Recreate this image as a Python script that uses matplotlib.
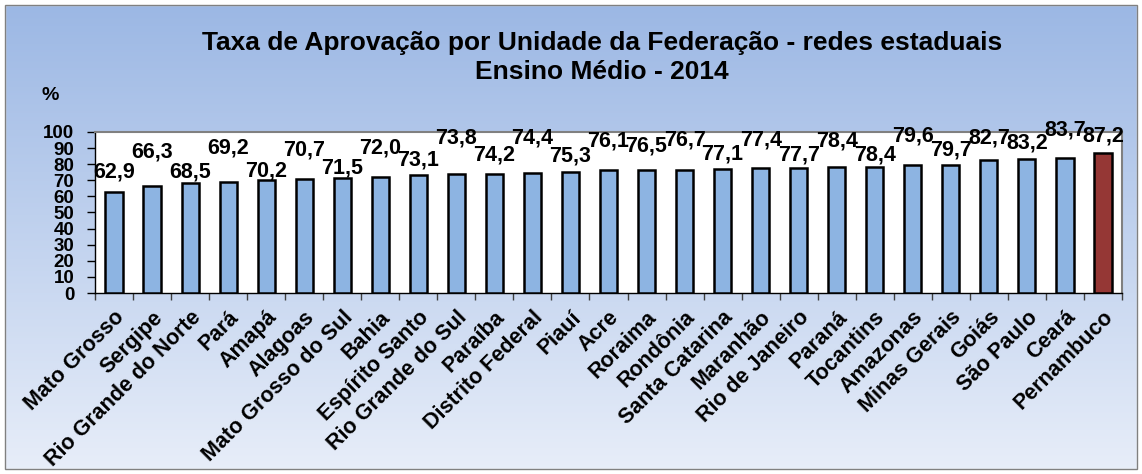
import numpy as np
import matplotlib
matplotlib.use("Agg")
from matplotlib import pyplot as plt
from matplotlib.patches import Rectangle
from matplotlib.transforms import ScaledTranslation

# data
estados = ["Mato Grosso", "Sergipe", "Rio Grande do Norte", "Pará", "Amapá", "Alagoas",
           "Mato Grosso do Sul", "Bahia", "Espírito Santo", "Rio Grande do Sul", "Paraíba",
           "Distrito Federal", "Piauí", "Acre", "Roraima", "Rondônia", "Santa Catarina",
           "Maranhão", "Rio de Janeiro", "Paraná", "Tocantins", "Amazonas", "Minas Gerais",
           "Goiás", "São Paulo", "Ceará", "Pernambuco"]
taxa = [62.9, 66.3, 68.5, 69.2, 70.2, 70.7, 71.5, 72.0, 73.1, 73.8, 74.2, 74.4, 75.3,
        76.1, 76.5, 76.7, 77.1, 77.4, 77.7, 78.4, 78.4, 79.6, 79.7, 82.7, 83.2, 83.7, 87.2]
destaque = "Pernambuco"

# where each value label sits (manually staggered like the original)
label_y = [75.2, 87.6, 75.2, 90.0, 75.8, 88.8, 77.6, 90.0, 82.6, 96.3, 85.7, 96.3, 85.0,
           94.4, 91.3, 95.0, 86.3, 95.0, 85.7, 94.4, 85.7, 97.5, 88.8, 96.3, 93.2, 101.2, 97.5]

plt.rcParams['font.family'] = ['Liberation Sans', 'DejaVu Sans']
plt.rcParams['font.weight'] = 'bold'

fig = plt.figure(figsize=(11.42, 4.74), dpi=100)

# gradient background
bg = fig.add_axes([0, 0, 1, 1], zorder=-10)
top = np.array([155, 183, 228]) / 255
bot = np.array([232, 238, 249]) / 255
t = np.linspace(0, 1, 256)[:, None]
grad = top[None, :] * (1 - t) + bot[None, :] * t
bg.imshow(grad[:, None, :], aspect='auto', extent=[0, 1, 0, 1])
bg.set_xlim(0, 1)
bg.set_ylim(0, 1)
bg.axis('off')
# white margin outside the chart frame + thin frame
W, H = 1142, 474
frame = Rectangle((5 / W, 5 / H), (1137 - 5) / W, (469 - 5) / H, transform=fig.transFigure,
                  fill=False, edgecolor='#808080', lw=1.0, zorder=5)
fig.patches.append(frame)
for r in [(0, 0, 5 / W, 1), (1137 / W, 0, 1, 1), (0, 0, 1, 5 / H), (0, 469 / H, 1, 1)]:
    fig.patches.append(Rectangle((r[0], r[1]), r[2] - r[0], r[3] - r[1],
                                 transform=fig.transFigure, color='white', zorder=4))

ax = fig.add_axes([95 / W, 1 - 293 / H, (1122 - 95) / W, (293 - 132) / H])
ax.set_facecolor('white')

x = np.arange(len(estados))
cores = ['#953735' if e == destaque else '#8DB4E2' for e in estados]
ax.bar(x, taxa, width=0.45, color=cores, edgecolor='black', linewidth=1.8, zorder=3)

for xi, v, ly in zip(x, taxa, label_y):
    ax.text(xi, ly, f"{v:.1f}".replace(".", ","), ha='center', va='center',
            fontsize=15.5, fontweight='bold', zorder=4, clip_on=False)

ax.set_xlim(-0.5, len(estados) - 0.5)
ax.set_ylim(0, 100)
ax.set_yticks(np.arange(0, 101, 10))
ax.set_yticklabels([str(v) for v in range(0, 101, 10)], fontsize=13.5, fontweight='bold')
ax.tick_params(axis='y', direction='out', length=6, width=1, pad=9)

ax.set_xticks(x)
ax.set_xticklabels(estados, rotation=45, ha='right', rotation_mode='anchor',
                   fontsize=15.5, fontweight='bold')
shift = ScaledTranslation(4 / 100, 0, fig.dpi_scale_trans)
for lbl in ax.get_xticklabels():
    lbl.set_transform(lbl.get_transform() + shift)
ax.set_xticks(np.arange(-0.5, len(estados), 1), minor=True)
ax.tick_params(axis='x', which='major', length=0, pad=10)
ax.tick_params(axis='x', which='minor', direction='out', length=5, width=1, color='#404040')

for s in ['top', 'right']:
    ax.spines[s].set_color('#808080')
    ax.spines[s].set_linewidth(1.5)
for s in ['left', 'bottom']:
    ax.spines[s].set_color('black')
    ax.spines[s].set_linewidth(1.0)

fig.text(602 / W, 1 - 43 / H, "Taxa de Aprovação por Unidade da Federação - redes estaduais",
         ha='center', va='center', fontsize=19, fontweight='bold')
fig.text(602 / W, 1 - 72 / H, "Ensino Médio - 2014",
         ha='center', va='center', fontsize=19, fontweight='bold')
fig.text(50 / W, 1 - 95 / H, "%", ha='center', va='center', fontsize=14, fontweight='bold')

fig.savefig("out.png", dpi=100)
